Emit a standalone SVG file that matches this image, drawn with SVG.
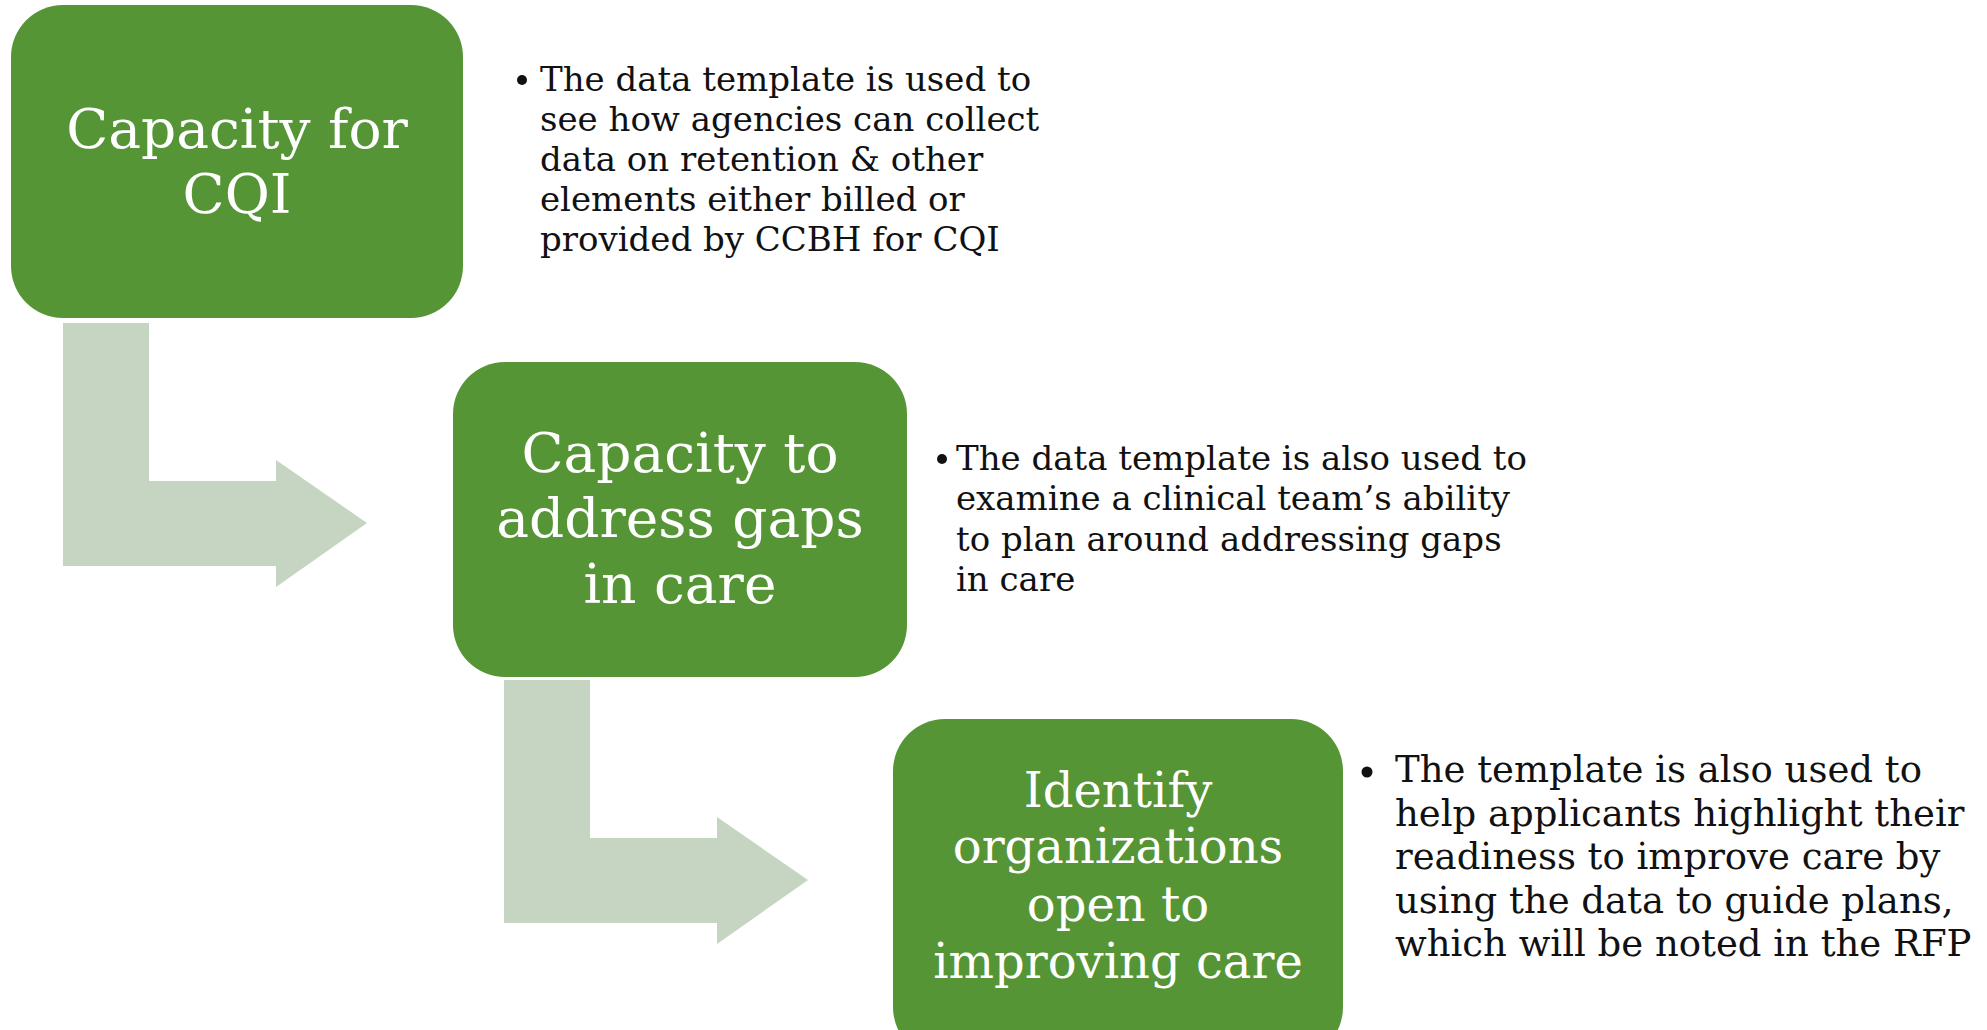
<svg xmlns="http://www.w3.org/2000/svg" width="1987" height="1030" viewBox="0 0 1987 1030">
<style>
.box{fill:#559535;}
.arrow{fill:#C5D5C1;}
.title{font-family:"DejaVu Serif","Liberation Serif",serif;fill:#ffffff;text-anchor:middle;}
.body{font-family:"DejaVu Serif","Liberation Serif",serif;fill:#111111;}
.bullet{fill:#111111;}
</style>
<rect width="1987" height="1030" fill="#ffffff"/>
<g id="connectors">
<polygon class="arrow" points="63,323 149,323 149,481 276,481 276,460 367,523 276,587 276,566 63,566"/>
<polygon class="arrow" points="504,680 590,680 590,838 717,838 717,817 808,880 717,944 717,923 504,923"/>
</g>
<g id="node1">
<rect class="box" x="11" y="5" width="452" height="313" rx="52" ry="52"/>
<text class="title" font-size="55" x="237" y="148">Capacity for</text>
<text class="title" font-size="55" x="237" y="213">CQI</text>
</g>
<g id="text1">
<circle class="bullet" cx="522" cy="80" r="5"/>
<text class="body" font-size="34">
<tspan x="540" y="91">The data template is used to</tspan>
<tspan x="540" y="131">see how agencies can collect</tspan>
<tspan x="540" y="171">data on retention &amp; other</tspan>
<tspan x="540" y="211">elements either billed or</tspan>
<tspan x="540" y="251">provided by CCBH for CQI</tspan>
</text>
</g>
<g id="node2">
<rect class="box" x="453" y="362" width="454" height="315" rx="52" ry="52"/>
<text class="title" font-size="55" x="680" y="472">Capacity to</text>
<text class="title" font-size="55" x="680" y="537">address gaps</text>
<text class="title" font-size="55" x="680" y="603">in care</text>
</g>
<g id="text2">
<circle class="bullet" cx="942" cy="459" r="5"/>
<text class="body" font-size="34">
<tspan x="956" y="470">The data template is also used to</tspan>
<tspan x="956" y="510">examine a clinical team’s ability</tspan>
<tspan x="956" y="551">to plan around addressing gaps</tspan>
<tspan x="956" y="591">in care</tspan>
</text>
</g>
<g id="node3">
<rect class="box" x="893" y="719" width="450" height="340" rx="52" ry="52"/>
<text class="title" font-size="48" x="1118" y="807">Identify</text>
<text class="title" font-size="48" x="1118" y="863">organizations</text>
<text class="title" font-size="48" x="1118" y="921">open to</text>
<text class="title" font-size="48" x="1118" y="978">improving care</text>
</g>
<g id="text3">
<circle class="bullet" cx="1367" cy="772" r="5.5"/>
<text class="body" font-size="37">
<tspan x="1395" y="782">The template is also used to</tspan>
<tspan x="1395" y="826">help applicants highlight their</tspan>
<tspan x="1395" y="869">readiness to improve care by</tspan>
<tspan x="1395" y="913">using the data to guide plans,</tspan>
<tspan x="1395" y="956">which will be noted in the RFP</tspan>
</text>
</g>
</svg>
